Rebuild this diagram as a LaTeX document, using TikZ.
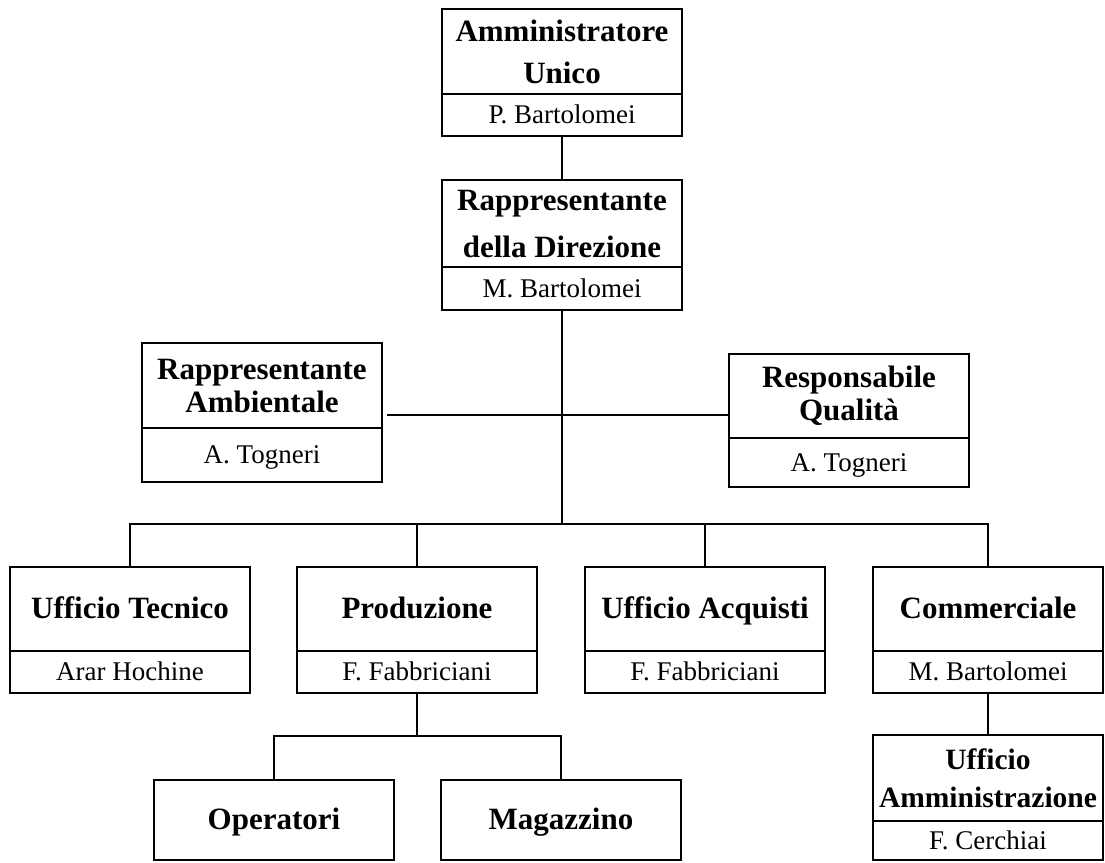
\documentclass[tikz,border=0pt]{standalone}
\usepackage{fontspec}
\setmainfont{Liberation Serif}
\usetikzlibrary{positioning}

\begin{document}
\begin{tikzpicture}[x=1pt, y=-1pt, line width=1.6pt,
  ruolo/.style={draw, inner sep=0pt, outer sep=0pt, minimum width=240pt, minimum height=84pt, align=center, font=\bfseries\fontsize{31}{35}\selectfont},
  ruolo1/.style={ruolo, text height=24pt, text depth=6pt},
  nome/.style={draw, inner sep=0pt, outer sep=0pt, minimum width=240pt, minimum height=42pt, text height=23pt, text depth=6pt, font=\fontsize{27}{30}\selectfont}]
\useasboundingbox (0,0) rectangle (1105,862);
% vertice
\node[ruolo, minimum height=85pt] (amm) at (562,51.5) {Amministratore\\[7pt]Unico};
\node[nome, below=0pt of amm] (ammN) {P. Bartolomei};
\node[ruolo, minimum height=87pt] (rd) at (562,223.5) {Rappresentante\\[12pt]della Direzione};
\node[nome, minimum height=43pt, below=0pt of rd] (rdN) {M. Bartolomei};
% staff
\node[ruolo, minimum height=85pt] (ra) at (262,385.5) {Rappresentante\\[-2pt]Ambientale};
\node[nome, minimum height=54pt, below=0pt of ra] (raN) {A. Togneri};
\node[ruolo] (rq) at (849,396) {Responsabile\\[-2pt]Qualità};
\node[nome, minimum height=49pt, below=0pt of rq] (rqN) {A. Togneri};
% funzioni
\node[ruolo1] (ut) at (130,609) {Ufficio Tecnico};
\node[nome, below=0pt of ut] (utN) {Arar Hochine};
\node[ruolo1] (prod) at (417,609) {Produzione};
\node[nome, below=0pt of prod] (prodN) {F. Fabbriciani};
\node[ruolo1] (acq) at (705,609) {Ufficio Acquisti};
\node[nome, below=0pt of acq] (acqN) {F. Fabbriciani};
\node[ruolo1, minimum width=230pt] (comm) at (988,609) {Commerciale};
\node[nome, minimum width=230pt, below=0pt of comm] (commN) {M. Bartolomei};
% reparti
\node[ruolo1, minimum height=80pt] (oper) at (274,820) {Operatori};
\node[ruolo1, minimum height=80pt] (mag) at (561,820) {Magazzino};
\node[ruolo, minimum width=230pt, minimum height=86pt, font=\bfseries\fontsize{29.5}{35}\selectfont] (uamm) at (988,778) {Ufficio\\[3pt]Amministrazione};
\node[nome, minimum width=230pt, minimum height=39pt, below=0pt of uamm] (uammN) {F. Cerchiai};
% collegamenti
\coordinate (gancio) at (562,415);
\coordinate (snodo) at (562,524);
\coordinate (snodoP) at (417,736);
\draw (ammN.south) -- (rd.north);
\draw (rdN.south) -- (snodo);
\draw ([xshift=5pt]ra.east |- gancio) -- (rq.west |- gancio);
\draw (ut.north) |- (snodo) -| (comm.north);
\draw (prod.north) -- (prod.north |- snodo);
\draw (acq.north) -- (acq.north |- snodo);
\draw (prodN.south) -- (snodoP);
\draw (oper.north) |- (snodoP) -| (mag.north);
\draw (commN.south) -- (uamm.north);
\end{tikzpicture}
\end{document}
